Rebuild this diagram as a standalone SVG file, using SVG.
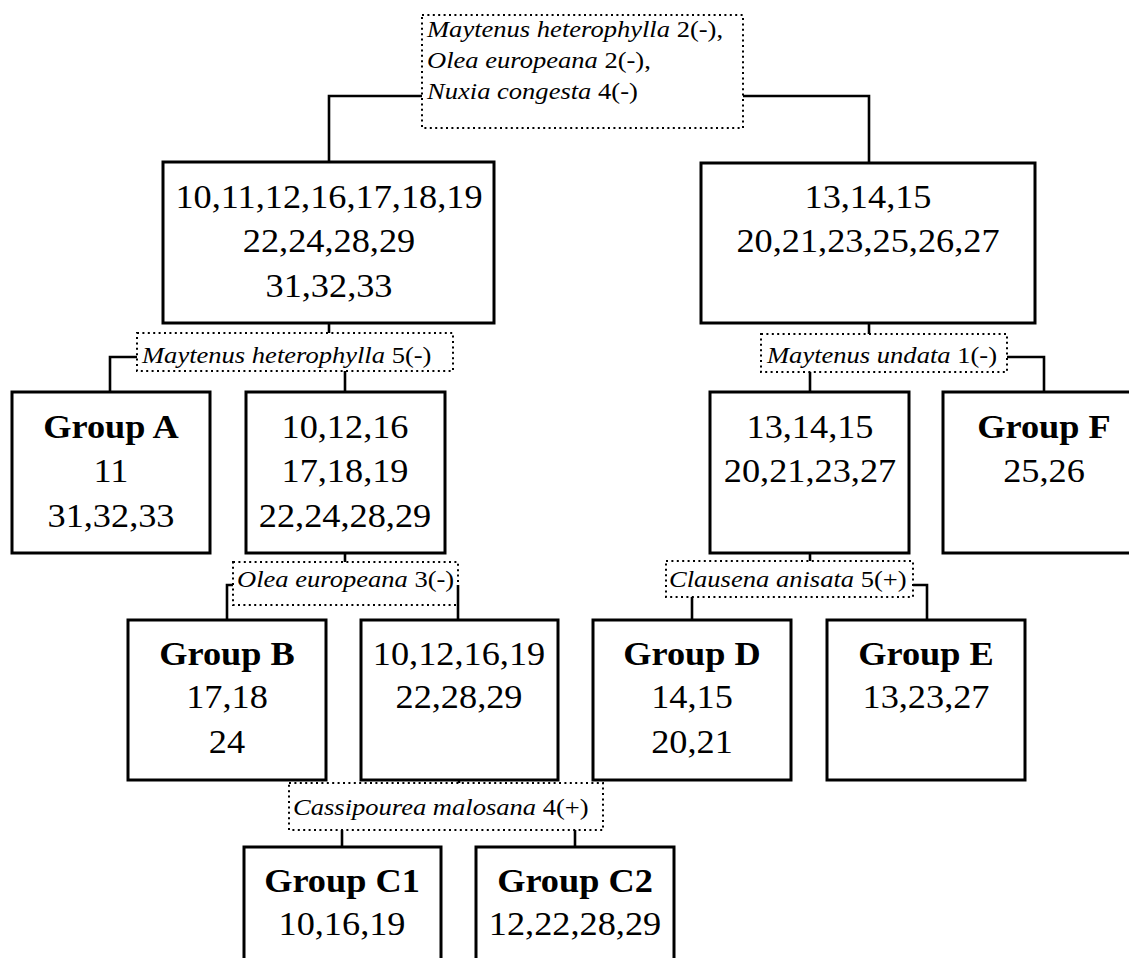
<svg xmlns="http://www.w3.org/2000/svg" width="1129" height="958" viewBox="0 0 1129 958">
  <style>
    .box { fill: #fff; stroke: #000; stroke-width: 3; }
    .split { fill: none; stroke: #000; stroke-width: 2; stroke-dasharray: 2 3.4; }
    .wire { fill: none; stroke: #000; stroke-width: 2.6; }
    .num { font-family: "Liberation Serif", "Times New Roman", serif; font-size: 33px; text-anchor: middle; fill: #000; }
    .grp { font-family: "Liberation Serif", "Times New Roman", serif; font-size: 33px; font-weight: bold; text-anchor: middle; fill: #000; }
    .lab { font-family: "Liberation Serif", "Times New Roman", serif; font-size: 23.5px; fill: #000; }
    .sp { font-style: italic; }
  </style>
  <rect width="1129" height="958" fill="#fff"/>

  <!-- connectors -->
  <g id="connectors">
    <path class="wire" d="M422,96 H329 V162"/>
    <path class="wire" d="M743,96 H869 V163"/>
    <path class="wire" d="M329,323 V333"/>
    <path class="wire" d="M137,357 H110 V392"/>
    <path class="wire" d="M345,371 V392"/>
    <path class="wire" d="M869,323 V334"/>
    <path class="wire" d="M1007,357 H1044 V392"/>
    <path class="wire" d="M810,372 V392"/>
    <path class="wire" d="M345,553 V562"/>
    <path class="wire" d="M233,585 H227 V620"/>
    <path class="wire" d="M458,585 V620"/>
    <path class="wire" d="M810,553 V561"/>
    <path class="wire" d="M913,585 H927 V620"/>
    <path class="wire" d="M692,597 V620"/>
    <path class="wire" d="M459,780 V783"/>
    <path class="wire" d="M342,830 V847"/>
    <path class="wire" d="M575,830 V847"/>
  </g>

  <!-- split labels (dotted) -->
  <g id="split-root">
    <rect class="split" x="422" y="15" width="321" height="113"/>
    <text class="lab" transform="translate(427 37) scale(1.13 1)"><tspan class="sp">Maytenus heterophylla</tspan> 2(-),</text>
    <text class="lab" transform="translate(427 68) scale(1.13 1)"><tspan class="sp">Olea europeana</tspan> 2(-),</text>
    <text class="lab" transform="translate(427 99) scale(1.13 1)"><tspan class="sp">Nuxia congesta</tspan> 4(-)</text>
  </g>
  <g id="split-maytenus-het">
    <rect class="split" x="137" y="333" width="316" height="38"/>
    <text class="lab" transform="translate(142 363) scale(1.13 1)"><tspan class="sp">Maytenus heterophylla</tspan> 5(-)</text>
  </g>
  <g id="split-maytenus-und">
    <rect class="split" x="761" y="334" width="246" height="38"/>
    <text class="lab" transform="translate(767 363) scale(1.13 1)"><tspan class="sp">Maytenus undata</tspan> 1(-)</text>
  </g>
  <g id="split-olea">
    <rect class="split" x="233" y="562" width="225" height="43"/>
    <text class="lab" transform="translate(237 587) scale(1.13 1)"><tspan class="sp">Olea europeana</tspan> 3(-)</text>
  </g>
  <g id="split-clausena">
    <rect class="split" x="666" y="561" width="247" height="36"/>
    <text class="lab" transform="translate(669 587) scale(1.13 1)"><tspan class="sp">Clausena anisata</tspan> 5(+)</text>
  </g>
  <g id="split-cassipourea">
    <rect class="split" x="289" y="783" width="314" height="47"/>
    <text class="lab" transform="translate(293 815) scale(1.13 1)"><tspan class="sp">Cassipourea malosana</tspan> 4(+)</text>
  </g>

  <!-- plot groups -->
  <g id="node-left">
    <rect class="box" x="163" y="162" width="331" height="161"/>
    <text class="num" transform="translate(329 208) scale(1.1 1)">10,11,12,16,17,18,19</text>
    <text class="num" transform="translate(329 252) scale(1.1 1)">22,24,28,29</text>
    <text class="num" transform="translate(329 297) scale(1.1 1)">31,32,33</text>
  </g>
  <g id="node-right">
    <rect class="box" x="701" y="163" width="334" height="160"/>
    <text class="num" transform="translate(868 208) scale(1.1 1)">13,14,15</text>
    <text class="num" transform="translate(868 252) scale(1.1 1)">20,21,23,25,26,27</text>
  </g>
  <g id="group-a">
    <rect class="box" x="12" y="392" width="198" height="161"/>
    <text class="grp" transform="translate(111 438) scale(1.1 1)">Group A</text>
    <text class="num" transform="translate(111 482) scale(1.1 1)">11</text>
    <text class="num" transform="translate(111 527) scale(1.1 1)">31,32,33</text>
  </g>
  <g id="node-left-2">
    <rect class="box" x="246" y="392" width="199" height="161"/>
    <text class="num" transform="translate(345 438) scale(1.1 1)">10,12,16</text>
    <text class="num" transform="translate(345 482) scale(1.1 1)">17,18,19</text>
    <text class="num" transform="translate(345 527) scale(1.1 1)">22,24,28,29</text>
  </g>
  <g id="node-right-2">
    <rect class="box" x="710" y="392" width="199" height="161"/>
    <text class="num" transform="translate(810 438) scale(1.1 1)">13,14,15</text>
    <text class="num" transform="translate(810 482) scale(1.1 1)">20,21,23,27</text>
  </g>
  <g id="group-f">
    <rect class="box" x="943" y="392" width="202" height="161"/>
    <text class="grp" transform="translate(1044 438) scale(1.1 1)">Group F</text>
    <text class="num" transform="translate(1044 482) scale(1.1 1)">25,26</text>
  </g>
  <g id="group-b">
    <rect class="box" x="128" y="620" width="198" height="160"/>
    <text class="grp" transform="translate(227 665) scale(1.1 1)">Group B</text>
    <text class="num" transform="translate(227 708) scale(1.1 1)">17,18</text>
    <text class="num" transform="translate(227 753) scale(1.1 1)">24</text>
  </g>
  <g id="node-left-3">
    <rect class="box" x="361" y="620" width="197" height="160"/>
    <text class="num" transform="translate(459 665) scale(1.1 1)">10,12,16,19</text>
    <text class="num" transform="translate(459 708) scale(1.1 1)">22,28,29</text>
  </g>
  <g id="group-d">
    <rect class="box" x="593" y="620" width="198" height="160"/>
    <text class="grp" transform="translate(692 665) scale(1.1 1)">Group D</text>
    <text class="num" transform="translate(692 708) scale(1.1 1)">14,15</text>
    <text class="num" transform="translate(692 753) scale(1.1 1)">20,21</text>
  </g>
  <g id="group-e">
    <rect class="box" x="827" y="620" width="198" height="160"/>
    <text class="grp" transform="translate(926 665) scale(1.1 1)">Group E</text>
    <text class="num" transform="translate(926 708) scale(1.1 1)">13,23,27</text>
  </g>
  <g id="group-c1">
    <rect class="box" x="244" y="847" width="197" height="160"/>
    <text class="grp" transform="translate(342 892) scale(1.1 1)">Group C1</text>
    <text class="num" transform="translate(342 935) scale(1.1 1)">10,16,19</text>
  </g>
  <g id="group-c2">
    <rect class="box" x="476" y="847" width="198" height="160"/>
    <text class="grp" transform="translate(575 892) scale(1.1 1)">Group C2</text>
    <text class="num" transform="translate(575 935) scale(1.1 1)">12,22,28,29</text>
  </g>
</svg>
